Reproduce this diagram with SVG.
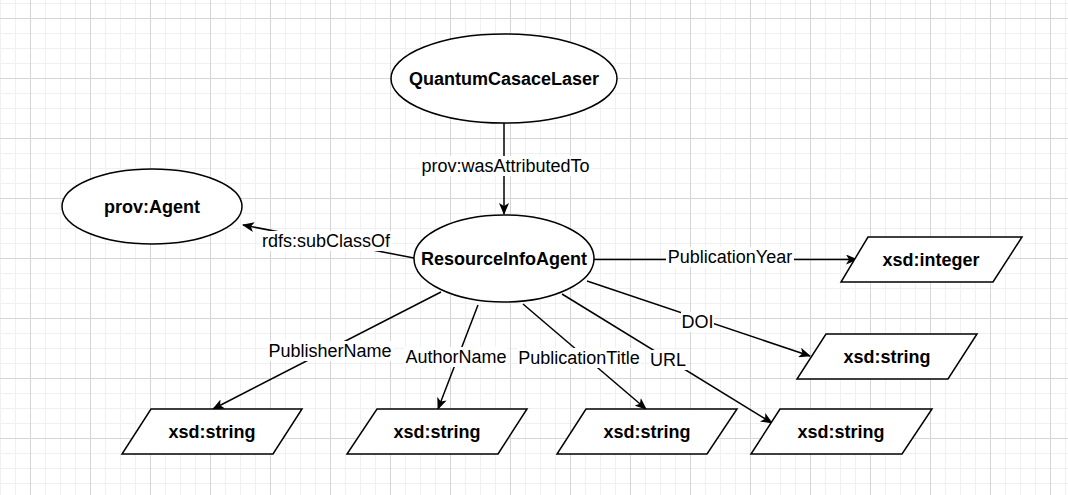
<svg xmlns="http://www.w3.org/2000/svg" width="1068" height="495" viewBox="0 0 1068 495">
  <defs>
    <pattern id="minor" x="0" y="3" width="15" height="15" patternUnits="userSpaceOnUse">
      <rect x="0" y="0" width="1" height="15" fill="#f0f0f0"/>
      <rect x="0" y="0" width="15" height="1" fill="#f0f0f0"/>
    </pattern>
    <pattern id="major" x="30" y="18" width="60" height="60" patternUnits="userSpaceOnUse">
      <rect x="0" y="0" width="1" height="60" fill="#d6d6d6"/>
      <rect x="0" y="0" width="60" height="1" fill="#d6d6d6"/>
    </pattern>
    <marker id="arrow" viewBox="0 0 12 10" refX="11" refY="5" markerWidth="12" markerHeight="10" markerUnits="userSpaceOnUse" orient="auto">
      <path d="M0,0 L12,5 L0,10 L3,5 Z" fill="#000"/>
    </marker>
  </defs>
  <style>
    .node { fill: #fff; stroke: #000; stroke-width: 1.5; }
    .ntext { font-family: "Liberation Sans", Arial, sans-serif; font-weight: bold; font-size: 18px; text-anchor: middle; fill: #000; }
    .edge { stroke: #000; stroke-width: 1.5; fill: none; marker-end: url(#arrow); }
    .ltext { font-family: "Liberation Sans", Arial, sans-serif; font-size: 18px; text-anchor: middle; fill: #000; }
    .lbg { fill: #fff; }
  </style>
  <rect width="1068" height="495" fill="#fff"/>
  <rect width="1068" height="495" fill="url(#minor)"/>
  <rect width="1068" height="495" fill="url(#major)"/>

  <g id="connectors">
    <line class="edge" x1="504" y1="123" x2="504" y2="214"/>
    <line class="edge" x1="414" y1="258" x2="243" y2="225"/>
    <line class="edge" x1="594" y1="259.5" x2="857" y2="259.5"/>
    <line class="edge" x1="587" y1="281" x2="810" y2="356"/>
    <line class="edge" x1="441" y1="292" x2="213" y2="409"/>
    <line class="edge" x1="478" y1="305" x2="438" y2="409"/>
    <line class="edge" x1="523" y1="304" x2="646" y2="409"/>
    <line class="edge" x1="562" y1="294" x2="772" y2="423"/>

    <g id="labels">
      <rect class="lbg" x="420" y="156" width="171" height="20"/>
      <text class="ltext" x="505.5" y="172">prov:wasAttributedTo</text>
      <rect class="lbg" x="260" y="231" width="132" height="20"/>
      <text class="ltext" x="326" y="247">rdfs:subClassOf</text>
      <rect class="lbg" x="666" y="247" width="128" height="20"/>
      <text class="ltext" x="730" y="263">PublicationYear</text>
      <rect class="lbg" x="681" y="312" width="33" height="20"/>
      <text class="ltext" x="697.5" y="328">DOI</text>
      <rect class="lbg" x="267" y="341" width="127" height="20"/>
      <text class="ltext" x="330" y="357">PublisherName</text>
      <rect class="lbg" x="404" y="347" width="104" height="20"/>
      <text class="ltext" x="456" y="363">AuthorName</text>
      <rect class="lbg" x="517" y="348" width="124" height="20"/>
      <text class="ltext" x="579" y="364">PublicationTitle</text>
      <rect class="lbg" x="649" y="350" width="38" height="20"/>
      <text class="ltext" x="668" y="366">URL</text>
    </g>
  </g>

  <g id="QuantumCasaceLaser">
    <ellipse class="node" cx="504" cy="78.5" rx="113" ry="44.5"/>
    <text class="ntext" x="504" y="84.5">QuantumCasaceLaser</text>
  </g>
  <g id="ResourceInfoAgent">
    <ellipse class="node" cx="504" cy="258.5" rx="90" ry="43.5"/>
    <text class="ntext" x="504" y="265">ResourceInfoAgent</text>
  </g>
  <g id="provAgent">
    <ellipse class="node" cx="152" cy="206.5" rx="90" ry="37.5"/>
    <text class="ntext" x="152" y="212.5">prov:Agent</text>
  </g>
  <g id="xsdInteger">
    <polygon class="node" points="868,237 1022,237 993,282 841,282"/>
    <text class="ntext" x="931" y="265.5">xsd:integer</text>
  </g>
  <g id="xsdStringDOI">
    <polygon class="node" points="826,334 977,334 948,379 797,379"/>
    <text class="ntext" x="887" y="362.5">xsd:string</text>
  </g>
  <g id="xsdStringPublisher">
    <polygon class="node" points="151,409 302,409 273,454 122,454"/>
    <text class="ntext" x="212" y="437.5">xsd:string</text>
  </g>
  <g id="xsdStringAuthor">
    <polygon class="node" points="377,409 527,409 498,454 347,454"/>
    <text class="ntext" x="437" y="437.5">xsd:string</text>
  </g>
  <g id="xsdStringTitle">
    <polygon class="node" points="586,409 737,409 707,454 557,454"/>
    <text class="ntext" x="647" y="437.5">xsd:string</text>
  </g>
  <g id="xsdStringURL">
    <polygon class="node" points="780,409 932,409 902,454 751,454"/>
    <text class="ntext" x="841" y="437.5">xsd:string</text>
  </g>
</svg>
